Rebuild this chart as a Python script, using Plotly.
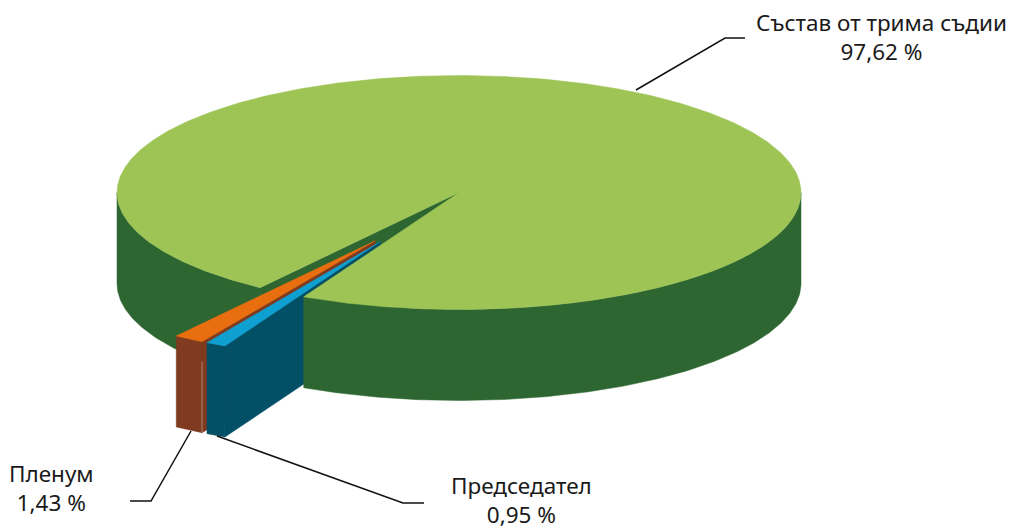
import math
import plotly.graph_objects as go

categories = ["Председател", "Пленум", "Състав от трима съдии"]
values = [0.95, 1.43, 97.62]
top_colors = ["#0FA0D2", "#E96E10", "#9DC455"]
side_colors = ["#024F66", "#7F3A20", "#2E6631"]
label_lines = ["Председател", "Пленум", "Състав от трима съдии"]

# pie geometry, in the pixel-sized units of the axes
CX, CY, RX, RY, DEPTH = 459.0, 192.5, 342.0, 117.0, 91.0
START_DEG = 27.0
EXPLODE = [0.48, 0.48, 0.0]
EXPLODE_DIR = [28.7, 30.7, 0.0]

W, H = 1012, 529


def slice_angles():
    out, a = [], START_DEG
    for v in values:
        span = 360.0 * v / sum(values)
        out.append((a, a + span))
        a += span
    return out


ANG = slice_angles()


def centre(i):
    d = math.radians(EXPLODE_DIR[i])
    return (CX - EXPLODE[i] * RX * math.sin(d), CY + EXPLODE[i] * RY * math.cos(d))


def rim(i, deg, dz=0.0):
    c = centre(i)
    t = math.radians(deg)
    return (c[0] - RX * math.sin(t), c[1] + RY * math.cos(t) + dz)


def arc(i, a0, a1, dz=0.0):
    n = max(2, int(abs(a1 - a0) * 2))
    return [rim(i, a0 + (a1 - a0) * k / n, dz) for k in range(n + 1)]


fig = go.Figure()


def poly(points, color):
    xs = [p[0] for p in points] + [points[0][0]]
    ys = [p[1] for p in points] + [points[0][1]]
    fig.add_trace(go.Scatter(x=xs, y=ys, mode="lines", fill="toself", fillcolor=color,
                             line=dict(color=color, width=0.5), hoverinfo="skip", showlegend=False))


def outer_wall(i, a0, a1):
    poly(arc(i, a0, a1) + arc(i, a1, a0, DEPTH), side_colors[i])


def radial_wall(i, deg):
    c = centre(i)
    r0, r1 = rim(i, deg), rim(i, deg, DEPTH)
    poly([c, r0, r1, (c[0], c[1] + DEPTH)], side_colors[i])


def top(i):
    poly([centre(i)] + arc(i, *ANG[i]), top_colors[i])


BLUE, ORANGE, GREEN = 0, 1, 2
g0, g1 = ANG[GREEN]

# main slice: notch wall and left-hand rim
radial_wall(GREEN, g0)
outer_wall(GREEN, g0, 90)

# Пленум sides
radial_wall(ORANGE, ANG[ORANGE][0])
outer_wall(ORANGE, *ANG[ORANGE])

# Председател sides
radial_wall(BLUE, ANG[BLUE][0])
outer_wall(BLUE, *ANG[BLUE])

# main slice: right-hand rim sits in front of the exploded slices
outer_wall(GREEN, 270, g1)

# tops
top(GREEN)
top(ORANGE)
top(BLUE)

# fine highlight on the Пленум edge
hx0, hy0 = rim(ORANGE, ANG[ORANGE][0], 20)
hx1, hy1 = rim(ORANGE, ANG[ORANGE][0], DEPTH)
fig.add_trace(go.Scatter(x=[hx0, hx1], y=[hy0, hy1], mode="lines",
                         line=dict(color="#C59A86", width=0.8), hoverinfo="skip", showlegend=False))

# leader lines
leaders = [
    ([217, 403, 424], [436, 503, 503]),
    ([191, 151, 130], [431, 501, 501]),
    ([636, 725, 745], [90, 38, 38]),
]
for lx, ly in leaders:
    fig.add_trace(go.Scatter(x=lx, y=ly, mode="lines", line=dict(color="#111111", width=1.5),
                             hoverinfo="skip", showlegend=False))

label_pos = [(521, 500), (51, 488), (881, 37)]
for name, v, (lx, ly) in zip(label_lines, values, label_pos):
    fig.add_annotation(x=lx, y=ly, xref="x", yref="y", showarrow=False, align="center",
                       text=f"{name}<br>{v:.2f}".replace(".", ",") + " %",
                       font=dict(family="Noto Sans", size=22.5, color="#1a1a1a"))

fig.update_layout(width=W, height=H, margin=dict(l=0, r=0, t=0, b=0),
                  paper_bgcolor="white", plot_bgcolor="white", showlegend=False,
                  xaxis=dict(range=[0, W], visible=False, fixedrange=True),
                  yaxis=dict(range=[H, 0], visible=False, fixedrange=True))

fig.write_html("out.html", config={"displayModeBar": False},
               post_script="document.body.style.margin='0';")
